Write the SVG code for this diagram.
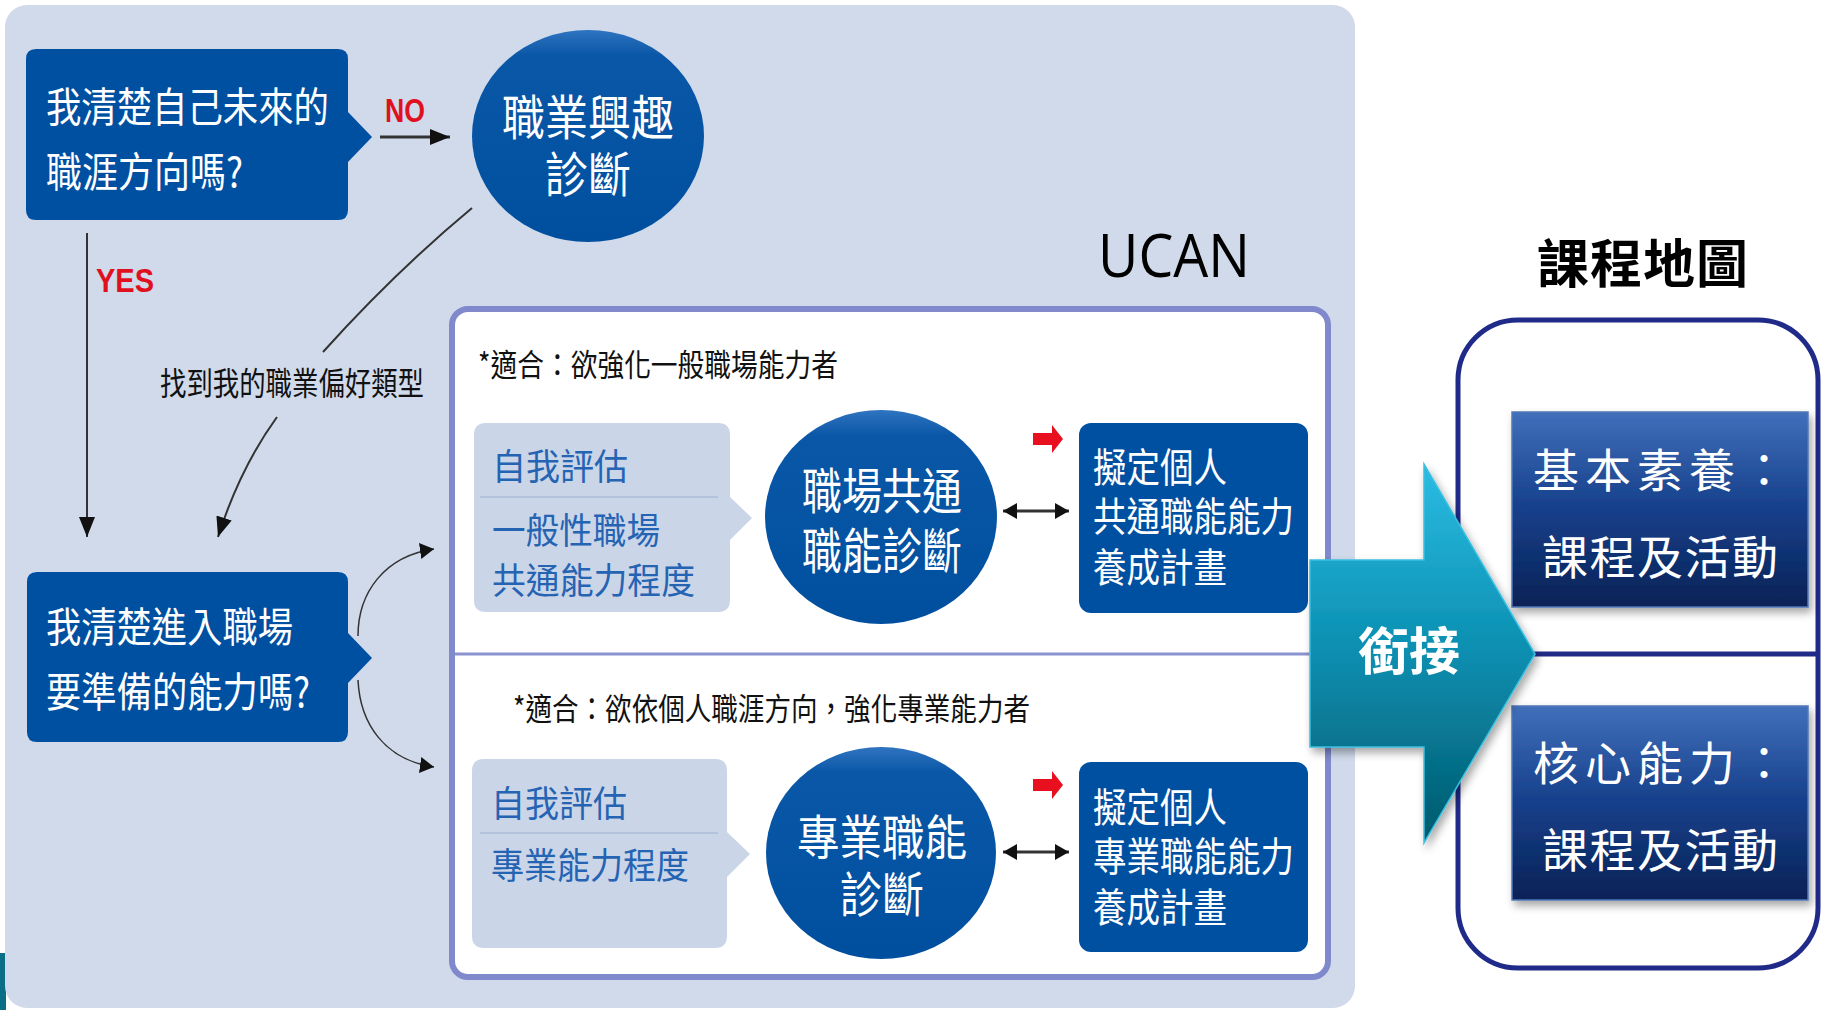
<svg xmlns="http://www.w3.org/2000/svg" width="1831" height="1010" viewBox="0 0 1831 1010">
<defs>
<style>
.cjk{font-family:"Noto Sans CJK TC","Noto Sans CJK SC","Noto Sans CJK JP",sans-serif;}
.wt{fill:#ffffff;}
.bt{fill:#2563B3;}
.kt{fill:#111111;}
.red{font-family:"Liberation Sans",Arial,sans-serif;font-weight:bold;fill:#E0101E;}
.dark{fill:#0050A2;}
.light{fill:#CAD5E8;}
.conn{fill:none;stroke:#333333;}
</style>
<linearGradient id="gcirc" x1="0" y1="0" x2="0" y2="1">
<stop offset="0" stop-color="#2F74C0"/>
<stop offset="0.12" stop-color="#0A57A7"/>
<stop offset="1" stop-color="#004F9F"/>
</linearGradient>
<linearGradient id="gteal" gradientUnits="userSpaceOnUse" x1="0" y1="464" x2="0" y2="843">
<stop offset="0" stop-color="#2CBCE3"/>
<stop offset="0.5" stop-color="#0A8EB0"/>
<stop offset="1" stop-color="#03596C"/>
</linearGradient>
<linearGradient id="gnavy" x1="0" y1="0" x2="0" y2="1">
<stop offset="0" stop-color="#416FBA"/>
<stop offset="0.5" stop-color="#163F8A"/>
<stop offset="1" stop-color="#0A2256"/>
</linearGradient>
<filter id="sh" x="-10%" y="-10%" width="125%" height="130%">
<feDropShadow dx="3" dy="5" stdDeviation="4" flood-color="#000" flood-opacity="0.35"/>
</filter>
<marker id="ah" markerUnits="userSpaceOnUse" viewBox="0 0 20 16" refX="20" refY="8" markerWidth="20" markerHeight="16" orient="auto-start-reverse">
<path d="M0,0 L20,8 L0,16 Z" fill="#111"/>
</marker>
<marker id="ahs" markerUnits="userSpaceOnUse" viewBox="0 0 14 16" refX="14" refY="8" markerWidth="14" markerHeight="16" orient="auto-start-reverse">
<path d="M0,0 L14,8 L0,16 Z" fill="#111"/>
</marker>
</defs>

<rect x="0" y="0" width="1831" height="1010" fill="#ffffff"/>
<rect x="0" y="953" width="6" height="57" fill="#0A6F86"/>
<g id="panel">
<rect x="5" y="5" width="1350" height="1003" rx="22" fill="#D0DAEA"/>
</g>

<g id="ucan-box">
<rect x="452" y="309" width="876" height="668" rx="16" fill="#ffffff" stroke="#7F89CB" stroke-width="6"/>
<line x1="455" y1="654" x2="1325" y2="654" stroke="#8A93CF" stroke-width="3"/>
<text x="1098" y="277" font-family="'Open Sans','Noto Sans',sans-serif" font-size="60" fill="#000" textLength="152" lengthAdjust="spacingAndGlyphs">UCAN</text>
</g>

<g id="q1">
<path class="dark" d="M36,49 H338 Q348,49 348,59 V112 L372,137 L348,162 V210 Q348,220 338,220 H36 Q26,220 26,210 V59 Q26,49 36,49 Z"/>
<text class="cjk wt" x="46" y="122" font-size="41" textLength="283" lengthAdjust="spacingAndGlyphs">我清楚自己未來的</text>
<text class="cjk wt" x="46" y="187" font-size="41" textLength="197" lengthAdjust="spacingAndGlyphs">職涯方向嗎?</text>
</g>

<g id="interest">
<ellipse cx="588" cy="136" rx="116" ry="106" fill="url(#gcirc)"/>
<text class="cjk wt" x="588" y="135" font-size="48" text-anchor="middle" textLength="172" lengthAdjust="spacingAndGlyphs">職業興趣</text>
<text class="cjk wt" x="588" y="192" font-size="48" text-anchor="middle" textLength="86" lengthAdjust="spacingAndGlyphs">診斷</text>
</g>

<g id="q2">
<path class="dark" d="M37,572 H338 Q348,572 348,582 V633 L372,658 L348,683 V732 Q348,742 338,742 H37 Q27,742 27,732 V582 Q27,572 37,572 Z"/>
<text class="cjk wt" x="46" y="642" font-size="41" textLength="247" lengthAdjust="spacingAndGlyphs">我清楚進入職場</text>
<text class="cjk wt" x="46" y="707" font-size="41" textLength="264" lengthAdjust="spacingAndGlyphs">要準備的能力嗎?</text>
</g>

<g id="labels">
<text class="red" x="385" y="122" font-size="34" textLength="40" lengthAdjust="spacingAndGlyphs">NO</text>
<text class="red" x="96" y="292" font-size="34" textLength="58" lengthAdjust="spacingAndGlyphs">YES</text>
<text class="cjk kt" x="160" y="395" font-size="32" textLength="264" lengthAdjust="spacingAndGlyphs">找到我的職業偏好類型</text>
</g>

<g id="general-note">
<text class="cjk kt" x="478" y="376" font-size="31" textLength="360" lengthAdjust="spacingAndGlyphs">*適合：欲強化一般職場能力者</text>
</g>
<g id="general-self">
<path class="light" d="M486,423 H718 Q730,423 730,435 V497 L752,518 L730,540 V600 Q730,612 718,612 H486 Q474,612 474,600 V435 Q474,423 486,423 Z"/>
<line x1="480" y1="497" x2="718" y2="497" stroke="#B5C2DB" stroke-width="2"/>
<text class="cjk bt" x="492" y="480" font-size="36" textLength="136" lengthAdjust="spacingAndGlyphs">自我評估</text>
<text class="cjk bt" x="492" y="544" font-size="36" textLength="168" lengthAdjust="spacingAndGlyphs">一般性職場</text>
<text class="cjk bt" x="492" y="594" font-size="36" textLength="203" lengthAdjust="spacingAndGlyphs">共通能力程度</text>
</g>
<g id="general-diag">
<ellipse cx="881" cy="517" rx="116" ry="107" fill="url(#gcirc)"/>
<text class="cjk wt" x="882" y="509" font-size="49" text-anchor="middle" textLength="160" lengthAdjust="spacingAndGlyphs">職場共通</text>
<text class="cjk wt" x="882" y="569" font-size="49" text-anchor="middle" textLength="160" lengthAdjust="spacingAndGlyphs">職能診斷</text>
</g>
<g id="general-plan">
<rect class="dark" x="1079" y="423" width="229" height="190" rx="12"/>
<text class="cjk wt" x="1093" y="482" font-size="40" textLength="134" lengthAdjust="spacingAndGlyphs">擬定個人</text>
<text class="cjk wt" x="1093" y="531" font-size="40" textLength="201" lengthAdjust="spacingAndGlyphs">共通職能能力</text>
<text class="cjk wt" x="1093" y="582" font-size="40" textLength="134" lengthAdjust="spacingAndGlyphs">養成計畫</text>
</g>

<g id="pro-note">
<text class="cjk kt" x="513" y="720" font-size="31" textLength="517" lengthAdjust="spacingAndGlyphs">*適合：欲依個人職涯方向，強化專業能力者</text>
</g>
<g id="pro-self">
<path class="light" d="M484,759 H715 Q727,759 727,771 V832 L750,854 L727,877 V936 Q727,948 715,948 H484 Q472,948 472,936 V771 Q472,759 484,759 Z"/>
<line x1="480" y1="833" x2="718" y2="833" stroke="#B5C2DB" stroke-width="2"/>
<text class="cjk bt" x="491" y="817" font-size="36" textLength="136" lengthAdjust="spacingAndGlyphs">自我評估</text>
<text class="cjk bt" x="491" y="879" font-size="36" textLength="198" lengthAdjust="spacingAndGlyphs">專業能力程度</text>
</g>
<g id="pro-diag">
<ellipse cx="881" cy="853" rx="115" ry="106" fill="url(#gcirc)"/>
<text class="cjk wt" x="882" y="855" font-size="48" text-anchor="middle" textLength="170" lengthAdjust="spacingAndGlyphs">專業職能</text>
<text class="cjk wt" x="882" y="912" font-size="48" text-anchor="middle" textLength="84" lengthAdjust="spacingAndGlyphs">診斷</text>
</g>
<g id="pro-plan">
<rect class="dark" x="1079" y="762" width="229" height="190" rx="12"/>
<text class="cjk wt" x="1093" y="822" font-size="40" textLength="134" lengthAdjust="spacingAndGlyphs">擬定個人</text>
<text class="cjk wt" x="1093" y="871" font-size="40" textLength="201" lengthAdjust="spacingAndGlyphs">專業職能能力</text>
<text class="cjk wt" x="1093" y="922" font-size="40" textLength="134" lengthAdjust="spacingAndGlyphs">養成計畫</text>
</g>

<g id="course-map">
<text class="cjk" x="1537" y="283" font-size="52" font-weight="bold" fill="#000" letter-spacing="1">課程地圖</text>
<rect x="1458" y="320" width="360" height="648" rx="60" fill="#ffffff" stroke="#202A88" stroke-width="5"/>
<line x1="1460" y1="654" x2="1816" y2="654" stroke="#202A88" stroke-width="5"/>
</g>
<g id="basic">
<rect x="1512" y="412" width="296" height="195" fill="url(#gnavy)" stroke="#5078B8" stroke-width="1.5" filter="url(#sh)"/>
<text class="cjk wt" x="1533" y="487" font-size="46" letter-spacing="6">基本素養：</text>
<text class="cjk wt" x="1542" y="574" font-size="46" letter-spacing="1.5">課程及活動</text>
</g>
<g id="core">
<rect x="1512" y="706" width="296" height="194" fill="url(#gnavy)" stroke="#5078B8" stroke-width="1.5" filter="url(#sh)"/>
<text class="cjk wt" x="1533" y="780" font-size="46" letter-spacing="6">核心能力：</text>
<text class="cjk wt" x="1542" y="867" font-size="46" letter-spacing="1.5">課程及活動</text>
</g>
<g id="link-arrow">
<polygon points="1310,560 1424,560 1424,464 1535,654 1424,843 1424,747 1310,747" fill="url(#gteal)" stroke="#3BBFE0" stroke-width="1.5" filter="url(#sh)"/>
<text class="cjk wt" x="1409" y="670" font-size="51" font-weight="bold" text-anchor="middle">銜接</text>
</g>

<g id="connectors">
<line class="conn" x1="380" y1="137" x2="450" y2="137" stroke-width="3" marker-end="url(#ah)"/>
<line class="conn" x1="87" y1="233" x2="87" y2="537" stroke-width="2" marker-end="url(#ah)"/>
<path class="conn" d="M472,208 Q395,272 323,352" stroke-width="2" stroke="#555"/>
<path class="conn" d="M277,417 Q240,468 218,537" stroke-width="2" stroke="#444" marker-end="url(#ah)"/>
<path class="conn" d="M358,636 C358,592 385,556 434,549" stroke-width="1.5" stroke="#444" marker-end="url(#ahs)"/>
<path class="conn" d="M358,680 C360,724 385,760 434,767" stroke-width="1.5" stroke="#444" marker-end="url(#ahs)"/>
<line class="conn" x1="1003" y1="511" x2="1069" y2="511" stroke-width="3" marker-start="url(#ahs)" marker-end="url(#ahs)"/>
<line class="conn" x1="1003" y1="852" x2="1069" y2="852" stroke-width="3" marker-start="url(#ahs)" marker-end="url(#ahs)"/>
<path d="M1033,433 H1052 V425 L1063,439 L1052,453 V445 H1033 Z" fill="#E8101E"/>
<path d="M1033,779 H1052 V771 L1063,785 L1052,799 V791 H1033 Z" fill="#E8101E"/>
</g>
</svg>
